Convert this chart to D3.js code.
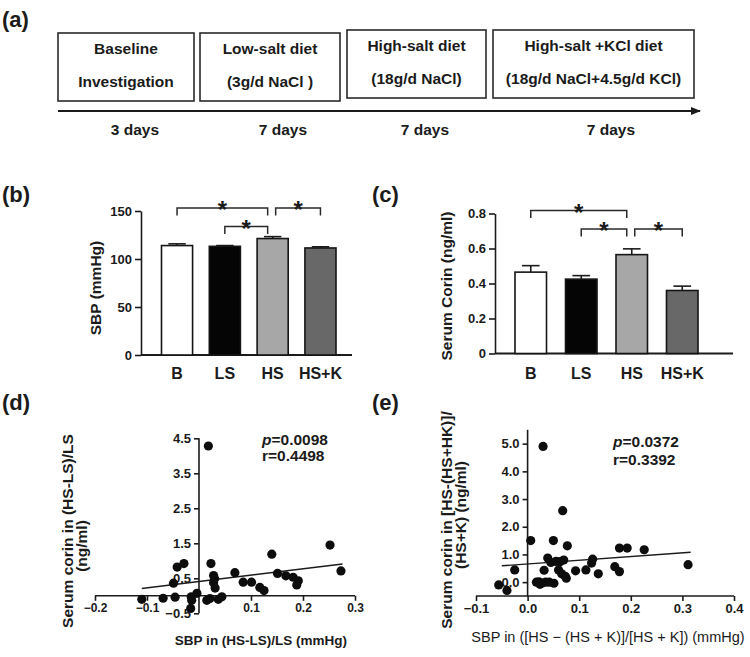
<!DOCTYPE html>
<html><head><meta charset="utf-8">
<script src="https://cdn.jsdelivr.net/npm/d3@7"></script>
<style>body{margin:0;background:#fff}svg{display:block}</style>
</head><body><svg id="chart" width="750" height="657"></svg>
<script>
// ---------------- DATA ----------------
const phaseTitles   = ["Baseline", "Low-salt diet", "High-salt diet", "High-salt +KCl diet"];
const phaseDetails  = ["Investigation", "(3g/d NaCl )", "(18g/d NaCl)", "(18g/d NaCl+4.5g/d KCl)"];
const phaseDuration = ["3 days", "7 days", "7 days", "7 days"];

const groups     = ["B", "LS", "HS", "HS+K"];
const sbpMean    = [114.0, 113.2, 121.3, 111.5];
const sbpErr     = [1.8, 0.8, 2.0, 1.2];
const sbpTicks   = [0, 50, 100, 150];
const corinMean  = [0.465, 0.425, 0.565, 0.36];
const corinErr   = [0.037, 0.020, 0.033, 0.025];
const corinTicks = [0, 0.2, 0.4, 0.6, 0.8];
const sbpSigPairs   = [["B", "HS"], ["LS", "HS"], ["HS", "HS+K"]];
const sbpSigLevel   = [2, 1, 2];
const corinSigPairs = [["B", "HS"], ["LS", "HS"], ["HS", "HS+K"]];
const corinSigLevel = [2, 1, 1];

const dX = [-0.110,-0.069,-0.046,-0.049,-0.042,-0.029,-0.015,-0.014,-0.004,-0.016,0.015,0.023,0.021,0.028,0.030,0.028,0.031,0.037,0.044,0.069,0.085,0.101,0.117,0.125,0.140,0.151,0.167,0.181,0.191,0.188,0.252,0.273,0.018];
const dY = [-0.10,-0.07,-0.04,0.36,0.82,0.92,-0.03,-0.13,0.07,-0.36,-0.13,0.92,-0.08,0.58,0.49,0.37,0.22,-0.10,-0.03,0.66,0.39,0.39,0.24,0.15,1.19,0.64,0.57,0.53,0.43,0.31,1.45,0.71,4.28];
const dFitX = [-0.110, 0.276];
const dFitY = [0.21, 0.91];
const dXTicks = [-0.2, -0.1, 0.1, 0.2, 0.3];
const dYTicks = [-0.5, 0.5, 1.5, 2.5, 3.5, 4.5];
const dStats = ["=0.0098", "r=0.4498"];

const eX = [-0.056,-0.040,-0.025,0.006,0.030,0.017,0.022,0.024,0.028,0.035,0.042,0.051,0.032,0.039,0.045,0.050,0.055,0.063,0.068,0.060,0.066,0.073,0.077,0.075,0.070,0.093,0.113,0.124,0.126,0.137,0.178,0.193,0.169,0.178,0.226,0.311];
const eY = [-0.10,-0.30,0.44,1.50,4.90,0.00,0.01,-0.08,-0.03,0.00,0.00,-0.04,0.43,0.87,0.71,1.50,0.75,0.74,2.58,0.44,0.30,0.21,1.31,0.14,0.80,0.41,0.44,0.69,0.83,0.30,1.23,1.23,0.56,0.38,1.17,0.63];
const eFitX = [-0.050, 0.316];
const eFitY = [0.59, 1.08];
const eXTicks = [-0.1, 0, 0.1, 0.2, 0.3, 0.4];
const eYTicks = [0, 1, 2, 3, 4, 5];
const eStats = ["=0.0372", "r=0.3392"];

// ---------------- STYLE ----------------
const FONT = '"Liberation Sans", Arial, Helvetica, sans-serif';
const INK = "#1b1b1b";
const barFills = ["#ffffff", "#050505", "#a7a7a7", "#686868"];

const svg = d3.select("#chart").attr("font-family", FONT);

function txt(x, y, s, size, opts = {}) {
  const t = svg.append("text").attr("x", x).attr("y", y)
    .attr("font-size", size).attr("font-weight", opts.weight || "bold")
    .attr("fill", INK).attr("text-anchor", opts.anchor || "middle")
    .attr("dominant-baseline", "central").text(s);
  if (opts.rotate) t.attr("transform", `rotate(-90,${x},${y})`);
  return t;
}

// panel labels
txt(2, 19, "(a)", 22, {anchor: "start"});
txt(2, 194, "(b)", 22, {anchor: "start"});
txt(372, 194, "(c)", 22, {anchor: "start"});
txt(2, 402, "(d)", 22, {anchor: "start"});
txt(372, 402, "(e)", 22, {anchor: "start"});

// ---------------- PANEL (a) ----------------
const boxLayout = [[58, 194, 33], [200, 340, 33], [347, 486, 30], [493, 694, 30]];
const boxH = 68;
const dayX = [135, 283, 425, 611];
phaseTitles.forEach((t, i) => {
  const [x0, x1, y0] = boxLayout[i];
  svg.append("rect").attr("x", x0).attr("y", y0).attr("width", x1 - x0).attr("height", boxH)
    .attr("fill", "none").attr("stroke", "#2a2a2a").attr("stroke-width", 1.6);
  txt((x0 + x1) / 2, y0 + 15, t, 15.5);
  txt((x0 + x1) / 2, y0 + 48, phaseDetails[i], 15.5);
  txt(dayX[i], 129, phaseDuration[i], 15.5);
});
svg.append("defs").append("marker").attr("id", "arr").attr("viewBox", "0 0 10 10")
  .attr("refX", 9).attr("refY", 5).attr("markerWidth", 5).attr("markerHeight", 5)
  .attr("orient", "auto").append("path").attr("d", "M0,1L10,5L0,9Z").attr("fill", "#1b1b1b");
svg.append("line").attr("x1", 58).attr("x2", 700).attr("y1", 111).attr("y2", 111)
  .attr("stroke", "#1b1b1b").attr("stroke-width", 2).attr("marker-end", "url(#arr)");

// ---------------- BAR PANELS ----------------
function styleAxis(g, fs) {
  g.select(".domain").attr("stroke", INK).attr("stroke-width", 1.6);
  g.selectAll(".tick line").attr("stroke", INK).attr("stroke-width", 1.6);
  g.selectAll(".tick text").attr("fill", INK).attr("font-size", fs).attr("font-weight", "bold").attr("font-family", FONT);
}

function barPanel(cfg) {
  const y = d3.scaleLinear().domain(cfg.domain).range([cfg.y0, cfg.y1]);
  const x = d3.scaleBand().domain(groups).range([cfg.bx0, cfg.bx1]).paddingInner(cfg.padIn).paddingOuter(0);
  const bw = x.bandwidth();
  const gy = svg.append("g").attr("transform", `translate(${cfg.ax},0)`)
    .call(d3.axisLeft(y).tickValues(cfg.ticks).tickSize(6).tickSizeOuter(0).tickPadding(3).tickFormat(cfg.fmt));
  styleAxis(gy, 13);
  svg.append("line").attr("x1", cfg.ax).attr("x2", cfg.axEnd).attr("y1", y(0)).attr("y2", y(0))
    .attr("stroke", INK).attr("stroke-width", 1.8);
  groups.forEach((gname, i) => {
    const cx = x(gname) + bw / 2;
    const top = y(cfg.mean[i]);
    const et = y(cfg.mean[i] + cfg.err[i]);
    svg.append("line").attr("x1", cx).attr("x2", cx).attr("y1", top).attr("y2", et).attr("stroke", INK).attr("stroke-width", 1.6);
    svg.append("line").attr("x1", cx - bw * 0.28).attr("x2", cx + bw * 0.28).attr("y1", et).attr("y2", et).attr("stroke", INK).attr("stroke-width", 1.6);
    svg.append("rect").attr("x", x(gname)).attr("y", top).attr("width", bw).attr("height", y(0) - top)
      .attr("fill", barFills[i]).attr("stroke", "#151515").attr("stroke-width", 1.6);
    txt(cx, 373, gname, 16);
  });
  const yTop = y(cfg.domain[1]);
  cfg.sig.forEach((pair, k) => {
    let xa = x(pair[0]) + bw / 2, xb = x(pair[1]) + bw / 2;
    if (pair[0] === "HS") xa += 3;
    if (pair[1] === "HS") xb -= 5;
    const level = cfg.sigLevel[k];
    const ty = level === 2 ? yTop - 3 : yTop + 15.5;
    const leg = 7.5;
    svg.append("path").attr("d", `M${xa},${ty + leg}V${ty}H${xb}V${ty + leg}`)
      .attr("fill", "none").attr("stroke", "#2a2a2a").attr("stroke-width", 1.5);
    svg.append("text").attr("x", (xa + xb) / 2).attr("y", ty + 10).attr("text-anchor", "middle")
      .attr("font-size", 24).attr("font-weight", "bold").attr("fill", INK).text("*");
  });
  if (cfg.ylabel) txt(cfg.ylabelX, cfg.ylabelY, cfg.ylabel, 15.5, {rotate: true});
}

barPanel({domain: [0, 150], y0: 355, y1: 211, ax: 141, axEnd: 352, bx0: 161.5, bx1: 336, padIn: 0.35,
  ticks: sbpTicks, fmt: d3.format("d"), mean: sbpMean, err: sbpErr, sig: sbpSigPairs, sigLevel: sbpSigLevel,
  ylabel: "SBP (mmHg)", ylabelX: 95, ylabelY: 288});
barPanel({domain: [0, 0.8], y0: 353.5, y1: 213.5, ax: 495, axEnd: 733, bx0: 515, bx1: 698, padIn: 0.376,
  ticks: corinTicks, fmt: d => d === 0 ? "0" : d3.format(".1f")(d), mean: corinMean, err: corinErr,
  sig: corinSigPairs, sigLevel: corinSigLevel,
  ylabel: "Serum Corin (ng/ml)", ylabelX: 446, ylabelY: 286});

// ---------------- SCATTER PANELS ----------------
function scatterPanel(cfg) {
  const x = d3.scaleLinear().domain(cfg.xd).range(cfg.xr);
  const y = d3.scaleLinear().domain(cfg.yd).range(cfg.yr);
  const fmt = d3.format(".1f");
  const gy = svg.append("g").attr("transform", `translate(${x(0)},0)`)
    .call(d3.axisLeft(y).tickValues(cfg.yTicks).tickSize(5).tickSizeOuter(0).tickPadding(3).tickFormat(fmt));
  gy.select(".domain").attr("d", `M0,${y(cfg.yAxisFrom)}V${y(cfg.yAxisTo)}`);
  styleAxis(gy, 13);
  const gx = svg.append("g").attr("transform", `translate(0,${y(cfg.xAxisAt)})`)
    .call(d3.axisBottom(x).tickValues(cfg.xTicks).tickSize(5).tickSizeOuter(0).tickPadding(3).tickFormat(fmt));
  gx.select(".domain").attr("d", `M${x(cfg.xd[0])},0H${x(cfg.xd[1])}`);
  styleAxis(gx, cfg.xTickFs);
  svg.append("line").attr("x1", x(cfg.fitX[0])).attr("x2", x(cfg.fitX[1]))
    .attr("y1", y(cfg.fitY[0])).attr("y2", y(cfg.fitY[1])).attr("stroke", INK).attr("stroke-width", 1.4);
  svg.append("g").selectAll("circle").data(cfg.xs).join("circle")
    .attr("cx", d => x(d)).attr("cy", (d, i) => y(cfg.ys[i])).attr("r", 4.6).attr("fill", "#0d0d0d");
  const st = svg.append("text").attr("x", cfg.statX).attr("y", cfg.statY).attr("font-size", 15.5)
    .attr("font-weight", "bold").attr("fill", INK).attr("dominant-baseline", "central");
  st.append("tspan").attr("font-style", "italic").text("p");
  st.append("tspan").text(cfg.stats[0]);
  svg.append("text").attr("x", cfg.statX).attr("y", cfg.statY + cfg.statGap).attr("font-size", 15.5)
    .attr("font-weight", "bold").attr("fill", INK).attr("dominant-baseline", "central").text(cfg.stats[1]);
}

scatterPanel({xd: [-0.2, 0.3], xr: [95, 355], yd: [-0.5, 4.5], yr: [613.3, 438.3],
  yTicks: dYTicks, xTicks: dXTicks, yAxisFrom: -0.5, yAxisTo: 4.5, xAxisAt: 0, xTickFs: 12,
  xs: dX, ys: dY, fitX: dFitX, fitY: dFitY, stats: dStats, statX: 262, statY: 439, statGap: 16.5});
scatterPanel({xd: [-0.1, 0.4], xr: [476, 734], yd: [-0.5, 5.5], yr: [596, 429.8],
  yTicks: eYTicks, xTicks: eXTicks, yAxisFrom: -0.5, yAxisTo: 5.5, xAxisAt: -0.5, xTickFs: 13,
  xs: eX, ys: eY, fitX: eFitX, fitY: eFitY, stats: eStats, statX: 613, statY: 441, statGap: 18.5});

txt(67, 531, "Serum corin in (HS-LS)/LS", 15.5, {rotate: true});
txt(81, 546, "(ng/ml)", 15.5, {rotate: true});
txt(261, 640, "SBP in (HS-LS)/LS (mmHg)", 13.5);
txt(446, 520, "Serum corin in [HS-(HS+HK)]/", 15.5, {rotate: true});
txt(460, 515, "(HS+K) (ng/ml)", 15.5, {rotate: true});
txt(608, 637, "SBP in ([HS \u2212 (HS + K)]/[HS + K]) (mmHg)", 14.5, {weight: "normal"});
</script></body></html>
